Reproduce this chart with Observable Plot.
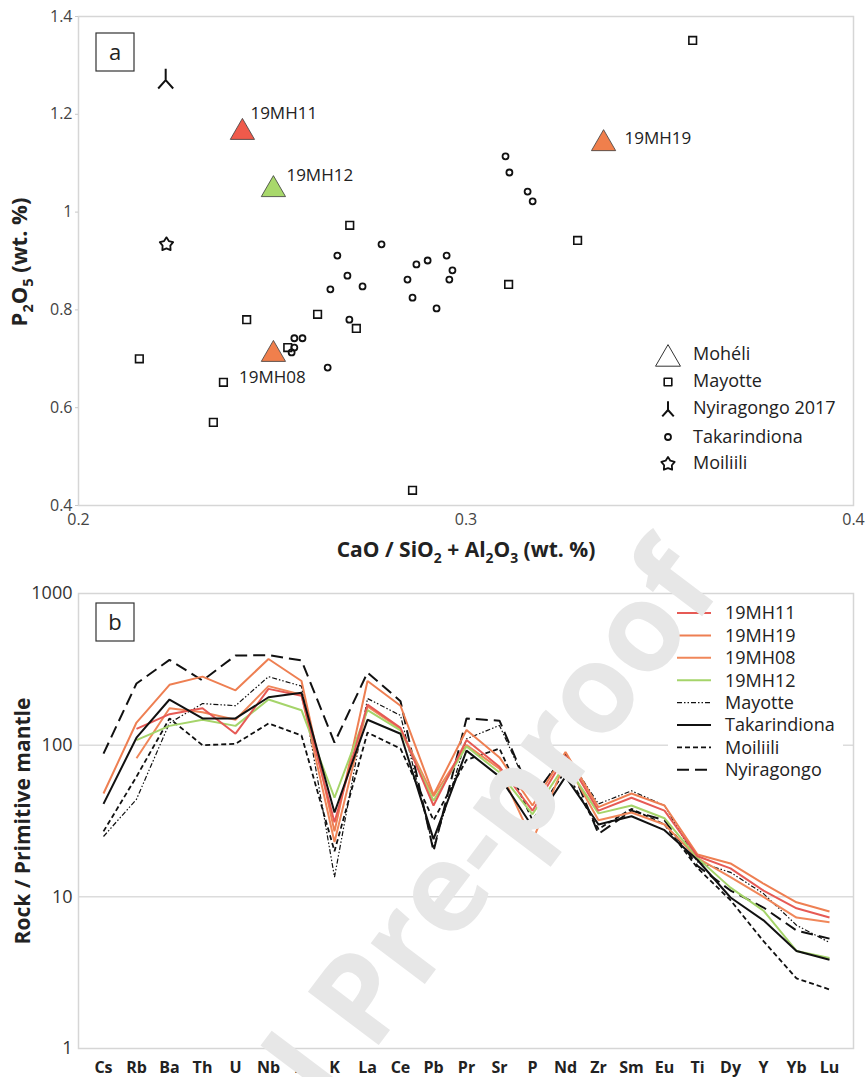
<!DOCTYPE html>
<html><head><meta charset="utf-8">
<script src="https://cdn.jsdelivr.net/npm/d3@7"></script>
<script src="https://cdn.jsdelivr.net/npm/@observablehq/plot@0.6"></script>
<style>
body{margin:0;background:#fff;}
#wrap{position:relative;width:865px;height:1077px;overflow:hidden;font-family:'Open Sans',sans-serif;background:#fff;}
#wrap > svg{position:absolute;left:0;}
</style></head><body><div id="wrap"></div>
<script>
// ---------- Panel a data ----------
const mayotteX = [0.3585,0.3288,0.311,0.270,0.2157,0.2434,0.2374,0.2348,0.254,0.2617,0.2717,0.2862];
const mayotteY = [1.351,0.942,0.852,0.973,0.700,0.780,0.652,0.570,0.723,0.791,0.762,0.431];
const takarindionaX = [0.2668,0.2782,0.2872,0.2901,0.2950,0.3102,0.3112,0.3159,0.3172,0.2694,0.2650,0.2733,0.2849,0.2862,0.2924,0.2699,0.2557,0.2578,0.2557,0.2550,0.2643,0.2965,0.2957];
const takarindionaY = [0.911,0.934,0.893,0.901,0.911,1.114,1.081,1.042,1.022,0.870,0.842,0.848,0.862,0.825,0.803,0.780,0.742,0.742,0.723,0.713,0.682,0.881,0.862];
const nyiragongoX = [0.2225];
const nyiragongoY = [1.27];
const moiliiliX = [0.2227];
const moiliiliY = [0.934];
const moheliNames = ["19MH11","19MH12","19MH19","19MH08"];
const moheliX = [0.2423,0.2503,0.3355,0.2503];
const moheliY = [1.163,1.046,1.140,0.709];
const xTicksA = [0.2,0.3,0.4];
const yTicksA = [0.4,0.6,0.8,1,1.2,1.4];
const legendA = ["Mohéli","Mayotte","Nyiragongo 2017","Takarindiona","Moiliili"];

// ---------- Panel b data ----------
const elements = ["Cs","Rb","Ba","Th","U","Nb","Ta","K","La","Ce","Pb","Pr","Sr","P","Nd","Zr","Sm","Eu","Ti","Dy","Y","Yb","Lu"];
const yTicksB = [1,10,100,1000];
const v19MH11 = [null,128,160,175,119,235,212,31,185,130,40,108,72,37,85,37,45,37,18.5,15.4,11,8.4,7.3];
const v19MH19 = [48,141,250,283,230,370,265,27,265,182,47,126,83,40,90,39,48,40,19,16.6,12.2,9.2,8.0];
const v19MH08 = [null,82,175,165,147,245,215,23,180,128,46,100,70,23.5,78,32,36,30,18,13.5,10,7.3,6.8];
const v19MH12 = [null,108,134,147,134,200,170,45,170,125,43,98,66,35,75,35.5,40,33,18,11.5,8.1,4.4,3.95];
const vMayotte = [25,44,140,188,182,283,245,13.5,203,157,21,110,135,45,88,41,50,40,17,14.5,10.5,6.5,5.0];
const vTakarindiona = [41,112,200,150,150,207,222,36,147,119,24,92,62,29,62,30,34,27.5,17.5,9.9,7,4.4,3.85];
const vMoiliili = [27,62,150,100,102,139,116,20,121,95,32,80,95,32,68,28,38,30,15.5,9.5,5.1,2.9,2.45];
const vNyiragongo = [88,255,365,267,390,392,362,104,301,195,20,150,145,45,88,26,37,32,16,11,8.5,6,5.3];
const legendB = ["19MH11","19MH19","19MH08","19MH12","Mayotte","Takarindiona","Moiliili","Nyiragongo"];

// ---------- styles ----------
const triColor = {"19MH11":"#ef5a4b","19MH12":"#a8d86b","19MH19":"#f07f4c","19MH08":"#f07f4c"};
const labelPos = {"19MH11":[8,-19,"start"],"19MH12":[13,-14,"start"],"19MH19":[21,-5,"start"],"19MH08":[-1,23,"middle"]};
const lineStyle = {
  "Nyiragongo":{stroke:"#111",w:2,dash:"12,6"},
  "Moiliili":{stroke:"#111",w:1.8,dash:"5,3"},
  "Mayotte":{stroke:"#111",w:1.2,dash:"5,2,1.5,2,1.5,2"},
  "19MH08":{stroke:"#f0875a",w:2,dash:null},
  "19MH19":{stroke:"#ee7f52",w:2,dash:null},
  "19MH12":{stroke:"#a5d46a",w:2,dash:null},
  "19MH11":{stroke:"#e65a55",w:2,dash:null},
  "Takarindiona":{stroke:"#111",w:2,dash:null}
};
const drawOrder = ["Nyiragongo","Moiliili","Mayotte","19MH08","19MH19","19MH12","19MH11","Takarindiona"];
const seriesValues = {"19MH11":v19MH11,"19MH19":v19MH19,"19MH08":v19MH08,"19MH12":v19MH12,
  "Mayotte":vMayotte,"Takarindiona":vTakarindiona,"Moiliili":vMoiliili,"Nyiragongo":vNyiragongo};

const wye = {draw(ctx,size){const r=Math.sqrt(size/Math.PI);
  ctx.moveTo(0,0);ctx.lineTo(0,-1.9*r);ctx.moveTo(0,0);ctx.lineTo(-1.25*r,1.4*r);ctx.moveTo(0,0);ctx.lineTo(1.25*r,1.4*r);}};
const fatStar = {draw(ctx,size){const r=Math.sqrt(size/Math.PI);const R=1.6*r,ri=0.92*r;
  for(let k=0;k<10;k++){const a=-Math.PI/2+k*Math.PI/5;const rr=k%2?ri:R;const px=rr*Math.cos(a),py=rr*Math.sin(a);
  if(k)ctx.lineTo(px,py);else ctx.moveTo(px,py);}ctx.closePath();}};

const font = "'Open Sans', sans-serif";
const wrap = document.getElementById("wrap");
const idx = a => a.map((_, i) => i);

function subText(g, parts, attrs){
  const t = g.append("text");
  for (const [k,v] of Object.entries(attrs)) t.attr(k,v);
  let shifted = false;
  parts.forEach(([s,sub])=>{
    const ts = t.append("tspan").text(s);
    if (sub){ ts.attr("font-size","66%").attr("dy", shifted? 0 : 6); shifted = true; }
    else if (shifted){ ts.attr("dy",-6); shifted=false; }
  });
  return t;
}

// ---------- Panel a ----------
const plotA = Plot.plot({
  width:865, height:570, marginLeft:78, marginRight:12, marginTop:16, marginBottom:65,
  style:{fontFamily:font, background:"transparent", overflow:"visible"},
  color:{type:"identity"},
  x:{domain:[0.2,0.4]},
  y:{domain:[0.4,1.4]},
  marks:[
    Plot.frame({stroke:"#d6d6d6", strokeWidth:1.5}),
    Plot.axisX({ticks:xTicksA, tickFormat:d=>d.toFixed(1), tickSize:0, tickPadding:8, fontSize:16, fill:"#444", label:null}),
    Plot.axisY({ticks:yTicksA, tickFormat:d=>String(+d.toFixed(1)), tickSize:3, tickPadding:3, fontSize:16, fill:"#444", stroke:"#c8c8c8", label:null}),
    Plot.dot(idx(mayotteX), {x:i=>mayotteX[i], y:i=>mayotteY[i], symbol:"square", r:4.3, stroke:"#111", strokeWidth:1.6, fill:"white"}),
    Plot.dot(idx(takarindionaX), {x:i=>takarindionaX[i], y:i=>takarindionaY[i], r:3, stroke:"#111", strokeWidth:1.8, fill:"none"}),
    Plot.dot(idx(nyiragongoX), {x:i=>nyiragongoX[i], y:i=>nyiragongoY[i], symbol:wye, r:6, stroke:"#111", strokeWidth:2, fill:"none"}),
    Plot.dot(idx(moiliiliX), {x:i=>moiliiliX[i], y:i=>moiliiliY[i], symbol:fatStar, r:4.4, stroke:"#111", strokeWidth:1.8, fill:"white", strokeLinejoin:"round"}),
    Plot.dot(idx(moheliNames), {x:i=>moheliX[i], y:i=>moheliY[i], symbol:"triangle", r:9, fill:i=>triColor[moheliNames[i]], stroke:"#3a3a3a", strokeWidth:0.8}),
    ...moheliNames.map((name,k)=>Plot.text([name], {x:()=>moheliX[k], y:()=>moheliY[k], text:d=>d,
      dx:labelPos[name][0], dy:labelPos[name][1], textAnchor:labelPos[name][2], fontSize:17, fill:"#222"}))
  ]
});
plotA.style.top = "0px";
wrap.appendChild(plotA);
{
  const g = d3.select(plotA).append("g").attr("font-family",font);
  g.append("rect").attr("x",96).attr("y",33).attr("width",38).attr("height",38).attr("fill","white").attr("stroke","#333").attr("stroke-width",1.2);
  g.append("text").attr("x",115).attr("y",52).attr("dy","0.35em").attr("text-anchor","middle").attr("font-size",22).attr("fill","#222").text("a");
  const syms = [
    {t:d3.symbolTriangle,size:269,fill:"white",sw:1,y:359,ty:354},
    {t:d3.symbolSquare,size:Math.PI*4.3*4.3,fill:"white",sw:1.6,y:382,ty:381},
    {t:wye,size:Math.PI*4.6*4.6,fill:"none",sw:2,y:410,ty:408},
    {t:d3.symbolCircle,size:Math.PI*9,fill:"none",sw:1.8,y:437,ty:437},
    {t:fatStar,size:Math.PI*4.4*4.4,fill:"white",sw:1.8,y:464,ty:463}
  ];
  syms.forEach((s,i)=>{
    g.append("path").attr("d",d3.symbol(s.t,s.size)()).attr("transform",`translate(668,${s.y})`)
      .attr("fill",s.fill).attr("stroke",i===0?"#333":"#111").attr("stroke-width",s.sw).attr("stroke-linejoin","round");
    g.append("text").attr("x",693).attr("y",s.ty).attr("dy","0.35em").attr("text-anchor","start")
      .attr("font-size",18).attr("fill","#222").text(legendA[i]);
  });
  subText(g, [["CaO / SiO",0],["2",1],[" + Al",0],["2",1],["O",0],["3",1],[" (wt. %)",0]],
    {x:466, y:557, "text-anchor":"middle", "font-size":21, "font-weight":"bold", fill:"#222"});
  subText(g, [["P",0],["2",1],["O",0],["5",1],[" (wt. %)",0]],
    {transform:"translate(27,262) rotate(-90)", "text-anchor":"middle", "font-size":22, "font-weight":"bold", fill:"#222"});
}

// ---------- Panel b ----------
const rows = drawOrder.flatMap(name => elements.map((el,i)=>({series:name, el, v:seriesValues[name][i]})));
const plotB = Plot.plot({
  width:865, height:507, marginLeft:78, marginRight:12, marginTop:23, marginBottom:29,
  style:{fontFamily:font, background:"transparent", overflow:"visible"},
  x:{type:"point", domain:elements, padding:0.52},
  y:{type:"log", domain:[1,1000]},
  marks:[
    Plot.ruleY([10,100], {stroke:"#dcdcdc", strokeWidth:1.5}),
    Plot.frame({stroke:"#d6d6d6", strokeWidth:1.5}),
    Plot.axisX({tickSize:0, tickPadding:13, fontSize:16, fontWeight:"bold", fill:"#222", label:null}),
    Plot.axisY({ticks:yTicksB, tickFormat:d=>String(d), tickSize:0, tickPadding:6, fontSize:18, fill:"#333", label:null}),
    ...drawOrder.map(name => Plot.line(rows.filter(r=>r.series===name), {x:"el", y:"v",
      stroke:lineStyle[name].stroke, strokeWidth:lineStyle[name].w, strokeDasharray:lineStyle[name].dash || undefined,
      strokeLinejoin:"miter", strokeLinecap:"butt"}))
  ]
});
plotB.style.top = "570px";
wrap.appendChild(plotB);
{
  const g = d3.select(plotB).append("g").attr("font-family",font);
  g.append("rect").attr("x",96).attr("y",33).attr("width",38).attr("height",38).attr("fill","white").attr("stroke","#333").attr("stroke-width",1.2);
  g.append("text").attr("x",115).attr("y",52).attr("dy","0.35em").attr("text-anchor","middle").attr("font-size",22).attr("fill","#222").text("b");
  g.append("rect").attr("x",668).attr("y",30).attr("width",175).attr("height",182).attr("fill","white");
  legendB.forEach((name,i)=>{
    const y = 43 + i*22.4;
    const st = lineStyle[name];
    g.append("line").attr("x1",677).attr("x2",711).attr("y1",y).attr("y2",y).attr("stroke",st.stroke)
      .attr("stroke-width",st.w).attr("stroke-dasharray",st.dash);
    g.append("text").attr("x",725).attr("y",y).attr("dy","0.35em").attr("text-anchor","start")
      .attr("font-size",18).attr("fill","#222").text(name);
  });
  g.append("text").attr("transform","translate(30,251) rotate(-90)").attr("text-anchor","middle")
    .attr("font-size",21).attr("font-weight","bold").attr("fill","#222").text("Rock / Primitive mantle");
}

// ---------- watermark ----------
{
  const svg = d3.select(wrap).append("svg").attr("width",865).attr("height",1077).style("top","0px").style("pointer-events","none");
  svg.append("text").attr("transform","translate(82,1439) rotate(-53)").attr("font-family",font)
    .attr("font-size",124).attr("font-weight","bold").attr("fill","#e7e7e7").text("Journal Pre-proof");
}
</script></body></html>
